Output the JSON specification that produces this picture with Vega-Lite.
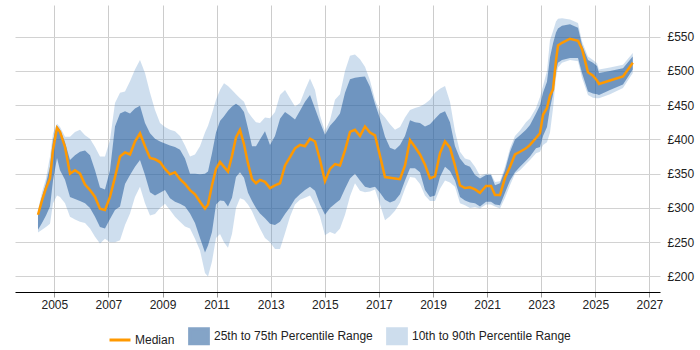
{
  "$schema": "https://vega.github.io/schema/vega-lite/v6.json",
  "width": 645,
  "height": 287,
  "autosize": "none",
  "padding": {"left": 15, "top": 5, "right": 40, "bottom": 58},
  "config": {
    "view": {"stroke": null},
    "font": "Liberation Sans",
    "axisY": {
      "title": null,
      "orient": "right",
      "values": [180, 190, 200, 210, 220, 230, 240, 250, 260, 270, 280, 290, 300, 310, 320, 330, 340, 350, 360, 370, 380, 390, 400, 410, 420, 430, 440, 450, 460, 470, 480, 490, 500, 510, 520, 530, 540, 550, 560, 570, 580, 590],
      "labelExpr": "datum.value % 50 === 0 ? '£' + datum.value : ''",
      "labelOverlap": false,
      "grid": true,
      "gridColor": {"condition": {"test": "datum.value % 50 === 0", "value": "#d2d2d2"}, "value": "#ebebeb"},
      "domain": false,
      "ticks": false,
      "labelPadding": 7,
      "labelFontSize": 12,
      "labelFont": "Liberation Sans",
      "labelColor": "#222222"
    },
    "legend": {
      "title": null,
      "orient": "none",
      "legendX": 96,
      "legendY": 322,
      "direction": "horizontal",
      "labelFontSize": 12,
      "labelFont": "Liberation Sans",
      "labelColor": "#222222",
      "labelOffset": 6,
      "columnPadding": 8,
      "symbolSize": 225,
      "symbolStrokeWidth": 3
    }
  },
  "data": {
    "values": [
      {"year": 2004.397, "p10": 264, "p25": 268, "median": 290, "p75": 293, "p90": 297},
      {"year": 2004.545, "p10": 268, "p25": 278, "median": 311, "p75": 316, "p90": 323},
      {"year": 2004.693, "p10": 272, "p25": 289, "median": 329, "p75": 336, "p90": 343},
      {"year": 2004.841, "p10": 277, "p25": 302, "median": 343, "p75": 360, "p90": 375},
      {"year": 2004.952, "p10": 307, "p25": 340, "median": 385, "p75": 399, "p90": 409},
      {"year": 2005.100, "p10": 318, "p25": 373, "median": 417, "p75": 420, "p90": 423},
      {"year": 2005.211, "p10": 316, "p25": 355, "median": 411, "p75": 414, "p90": 418},
      {"year": 2005.396, "p10": 307, "p25": 341, "median": 389, "p75": 396, "p90": 404},
      {"year": 2005.580, "p10": 287, "p25": 316, "median": 350, "p75": 370, "p90": 404},
      {"year": 2005.765, "p10": 283, "p25": 313, "median": 355, "p75": 377, "p90": 411},
      {"year": 2005.950, "p10": 280, "p25": 310, "median": 350, "p75": 382, "p90": 414},
      {"year": 2006.135, "p10": 278, "p25": 307, "median": 334, "p75": 384, "p90": 406},
      {"year": 2006.320, "p10": 270, "p25": 300, "median": 326, "p75": 377, "p90": 401},
      {"year": 2006.505, "p10": 258, "p25": 287, "median": 316, "p75": 355, "p90": 389},
      {"year": 2006.689, "p10": 248, "p25": 272, "median": 299, "p75": 330, "p90": 375},
      {"year": 2006.874, "p10": 255, "p25": 270, "median": 297, "p75": 327, "p90": 375},
      {"year": 2007.059, "p10": 250, "p25": 284, "median": 316, "p75": 355, "p90": 399},
      {"year": 2007.244, "p10": 250, "p25": 297, "median": 345, "p75": 419, "p90": 453},
      {"year": 2007.429, "p10": 253, "p25": 302, "median": 375, "p75": 438, "p90": 468},
      {"year": 2007.614, "p10": 275, "p25": 335, "median": 381, "p75": 441, "p90": 470},
      {"year": 2007.799, "p10": 292, "p25": 348, "median": 378, "p75": 438, "p90": 485},
      {"year": 2007.983, "p10": 316, "p25": 360, "median": 397, "p75": 445, "p90": 502},
      {"year": 2008.168, "p10": 331, "p25": 370, "median": 409, "p75": 449, "p90": 516},
      {"year": 2008.353, "p10": 307, "p25": 348, "median": 390, "p75": 424, "p90": 497},
      {"year": 2008.538, "p10": 289, "p25": 323, "median": 373, "p75": 409, "p90": 468},
      {"year": 2008.723, "p10": 291, "p25": 318, "median": 371, "p75": 401, "p90": 443},
      {"year": 2008.908, "p10": 300, "p25": 322, "median": 367, "p75": 397, "p90": 424},
      {"year": 2009.092, "p10": 306, "p25": 326, "median": 357, "p75": 394, "p90": 418},
      {"year": 2009.277, "p10": 297, "p25": 314, "median": 349, "p75": 391, "p90": 414},
      {"year": 2009.462, "p10": 287, "p25": 309, "median": 352, "p75": 389, "p90": 412},
      {"year": 2009.647, "p10": 280, "p25": 306, "median": 342, "p75": 385, "p90": 405},
      {"year": 2009.832, "p10": 273, "p25": 302, "median": 335, "p75": 372, "p90": 391},
      {"year": 2010.017, "p10": 270, "p25": 292, "median": 326, "p75": 350, "p90": 375},
      {"year": 2010.201, "p10": 255, "p25": 278, "median": 320, "p75": 350, "p90": 378},
      {"year": 2010.386, "p10": 238, "p25": 256, "median": 309, "p75": 349, "p90": 390},
      {"year": 2010.571, "p10": 205, "p25": 235, "median": 299, "p75": 350, "p90": 410},
      {"year": 2010.682, "p10": 200, "p25": 245, "median": 305, "p75": 353, "p90": 420},
      {"year": 2010.830, "p10": 222, "p25": 265, "median": 333, "p75": 380, "p90": 438},
      {"year": 2010.978, "p10": 256, "p25": 305, "median": 357, "p75": 410, "p90": 458},
      {"year": 2011.126, "p10": 262, "p25": 311, "median": 367, "p75": 427, "p90": 472},
      {"year": 2011.274, "p10": 250, "p25": 310, "median": 360, "p75": 434, "p90": 482},
      {"year": 2011.421, "p10": 242, "p25": 302, "median": 353, "p75": 442, "p90": 478},
      {"year": 2011.569, "p10": 262, "p25": 315, "median": 376, "p75": 448, "p90": 472},
      {"year": 2011.717, "p10": 300, "p25": 345, "median": 403, "p75": 452, "p90": 466},
      {"year": 2011.865, "p10": 314, "p25": 352, "median": 414, "p75": 448, "p90": 460},
      {"year": 2012.013, "p10": 312, "p25": 344, "median": 393, "p75": 440, "p90": 455},
      {"year": 2012.161, "p10": 305, "p25": 322, "median": 365, "p75": 416, "p90": 440},
      {"year": 2012.309, "p10": 295, "p25": 310, "median": 342, "p75": 390, "p90": 432},
      {"year": 2012.457, "p10": 282, "p25": 300, "median": 336, "p75": 390, "p90": 425},
      {"year": 2012.604, "p10": 270, "p25": 292, "median": 341, "p75": 400, "p90": 424},
      {"year": 2012.789, "p10": 256, "p25": 285, "median": 338, "p75": 412, "p90": 432},
      {"year": 2012.974, "p10": 250, "p25": 277, "median": 329, "p75": 392, "p90": 431},
      {"year": 2013.159, "p10": 240, "p25": 275, "median": 333, "p75": 405, "p90": 440},
      {"year": 2013.344, "p10": 240, "p25": 280, "median": 336, "p75": 430, "p90": 465},
      {"year": 2013.529, "p10": 263, "p25": 291, "median": 362, "p75": 440, "p90": 472},
      {"year": 2013.713, "p10": 287, "p25": 301, "median": 374, "p75": 435, "p90": 460},
      {"year": 2013.898, "p10": 305, "p25": 313, "median": 387, "p75": 429, "p90": 448},
      {"year": 2014.083, "p10": 312, "p25": 320, "median": 392, "p75": 442, "p90": 453},
      {"year": 2014.268, "p10": 315, "p25": 326, "median": 390, "p75": 455, "p90": 472},
      {"year": 2014.453, "p10": 318, "p25": 331, "median": 401, "p75": 465, "p90": 489},
      {"year": 2014.638, "p10": 305, "p25": 325, "median": 397, "p75": 445, "p90": 472},
      {"year": 2014.823, "p10": 287, "p25": 305, "median": 370, "p75": 425, "p90": 435},
      {"year": 2015.007, "p10": 260, "p25": 290, "median": 339, "p75": 407, "p90": 412},
      {"year": 2015.192, "p10": 265, "p25": 300, "median": 357, "p75": 420, "p90": 428},
      {"year": 2015.377, "p10": 262, "p25": 306, "median": 364, "p75": 428, "p90": 458},
      {"year": 2015.562, "p10": 270, "p25": 312, "median": 362, "p75": 438, "p90": 466},
      {"year": 2015.747, "p10": 290, "p25": 328, "median": 384, "p75": 468, "p90": 500},
      {"year": 2015.932, "p10": 317, "p25": 343, "median": 411, "p75": 488, "p90": 522},
      {"year": 2016.116, "p10": 336, "p25": 350, "median": 414, "p75": 490, "p90": 524},
      {"year": 2016.301, "p10": 325, "p25": 340, "median": 405, "p75": 491, "p90": 517},
      {"year": 2016.486, "p10": 323, "p25": 331, "median": 419, "p75": 492, "p90": 506},
      {"year": 2016.671, "p10": 324, "p25": 329, "median": 410, "p75": 477, "p90": 486},
      {"year": 2016.856, "p10": 327, "p25": 331, "median": 406, "p75": 452, "p90": 458},
      {"year": 2017.041, "p10": 305, "p25": 322, "median": 376, "p75": 430, "p90": 440},
      {"year": 2017.226, "p10": 282, "p25": 312, "median": 345, "p75": 404, "p90": 432},
      {"year": 2017.410, "p10": 288, "p25": 308, "median": 344, "p75": 388, "p90": 422},
      {"year": 2017.595, "p10": 296, "p25": 311, "median": 343, "p75": 385, "p90": 414},
      {"year": 2017.780, "p10": 308, "p25": 320, "median": 342, "p75": 392, "p90": 418},
      {"year": 2017.965, "p10": 328, "p25": 340, "median": 362, "p75": 405, "p90": 432},
      {"year": 2018.150, "p10": 345, "p25": 358, "median": 399, "p75": 428, "p90": 443},
      {"year": 2018.335, "p10": 344, "p25": 358, "median": 389, "p75": 425, "p90": 446},
      {"year": 2018.519, "p10": 335, "p25": 352, "median": 378, "p75": 424, "p90": 448},
      {"year": 2018.704, "p10": 318, "p25": 326, "median": 363, "p75": 419, "p90": 452},
      {"year": 2018.889, "p10": 310, "p25": 316, "median": 343, "p75": 422, "p90": 458},
      {"year": 2019.074, "p10": 310, "p25": 318, "median": 346, "p75": 430, "p90": 468},
      {"year": 2019.259, "p10": 328, "p25": 345, "median": 380, "p75": 438, "p90": 474},
      {"year": 2019.444, "p10": 340, "p25": 360, "median": 397, "p75": 441, "p90": 478},
      {"year": 2019.628, "p10": 337, "p25": 354, "median": 388, "p75": 425, "p90": 455},
      {"year": 2019.813, "p10": 331, "p25": 340, "median": 362, "p75": 390, "p90": 412},
      {"year": 2019.998, "p10": 307, "p25": 316, "median": 333, "p75": 372, "p90": 382},
      {"year": 2020.183, "p10": 304, "p25": 311, "median": 329, "p75": 363, "p90": 372},
      {"year": 2020.368, "p10": 300, "p25": 308, "median": 330, "p75": 360, "p90": 370},
      {"year": 2020.553, "p10": 301, "p25": 307, "median": 327, "p75": 348, "p90": 360},
      {"year": 2020.738, "p10": 299, "p25": 302, "median": 322, "p75": 343, "p90": 347},
      {"year": 2020.959, "p10": 305, "p25": 309, "median": 332, "p75": 348, "p90": 350},
      {"year": 2021.144, "p10": 305, "p25": 309, "median": 332, "p75": 348, "p90": 350},
      {"year": 2021.292, "p10": 302, "p25": 305, "median": 319, "p75": 333, "p90": 338},
      {"year": 2021.477, "p10": 299, "p25": 304, "median": 319, "p75": 336, "p90": 339},
      {"year": 2021.662, "p10": 315, "p25": 322, "median": 344, "p75": 355, "p90": 360},
      {"year": 2021.847, "p10": 333, "p25": 340, "median": 360, "p75": 382, "p90": 387},
      {"year": 2022.031, "p10": 350, "p25": 352, "median": 378, "p75": 400, "p90": 405},
      {"year": 2022.216, "p10": 355, "p25": 360, "median": 382, "p75": 406, "p90": 413},
      {"year": 2022.438, "p10": 364, "p25": 369, "median": 387, "p75": 414, "p90": 425},
      {"year": 2022.586, "p10": 370, "p25": 375, "median": 392, "p75": 421, "p90": 431},
      {"year": 2022.808, "p10": 380, "p25": 387, "median": 402, "p75": 438, "p90": 446},
      {"year": 2022.956, "p10": 382, "p25": 389, "median": 409, "p75": 450, "p90": 462},
      {"year": 2023.067, "p10": 392, "p25": 405, "median": 436, "p75": 468, "p90": 478},
      {"year": 2023.214, "p10": 396, "p25": 418, "median": 446, "p75": 484, "p90": 500},
      {"year": 2023.325, "p10": 410, "p25": 446, "median": 464, "p75": 520, "p90": 545},
      {"year": 2023.436, "p10": 445, "p25": 466, "median": 473, "p75": 540, "p90": 558},
      {"year": 2023.547, "p10": 490, "p25": 500, "median": 515, "p75": 556, "p90": 572},
      {"year": 2023.621, "p10": 505, "p25": 512, "median": 537, "p75": 562, "p90": 576},
      {"year": 2023.769, "p10": 512, "p25": 516, "median": 541, "p75": 566, "p90": 577},
      {"year": 2024.065, "p10": 516, "p25": 519, "median": 547, "p75": 568, "p90": 575},
      {"year": 2024.360, "p10": 514, "p25": 519, "median": 544, "p75": 563, "p90": 570},
      {"year": 2024.508, "p10": 490, "p25": 497, "median": 532, "p75": 538, "p90": 543},
      {"year": 2024.730, "p10": 465, "p25": 470, "median": 498, "p75": 516, "p90": 521},
      {"year": 2024.915, "p10": 461, "p25": 467, "median": 493, "p75": 512, "p90": 516},
      {"year": 2025.063, "p10": 460, "p25": 466, "median": 486, "p75": 507, "p90": 511},
      {"year": 2025.137, "p10": 460, "p25": 465, "median": 481, "p75": 497, "p90": 502},
      {"year": 2025.543, "p10": 466, "p25": 472, "median": 486, "p75": 500, "p90": 505},
      {"year": 2026.024, "p10": 475, "p25": 480, "median": 492, "p75": 504, "p90": 509},
      {"year": 2026.386, "p10": 497, "p25": 502, "median": 512, "p75": 521, "p90": 526}
    ]
  },
  "encoding": {
    "x": {
      "field": "year",
      "type": "quantitative",
      "scale": {"domain": [2003.547, 2027.392], "nice": false, "zero": false},
      "axis": {
        "title": null,
        "values": [2005, 2007, 2009, 2011, 2013, 2015, 2017, 2019, 2021, 2023, 2025, 2027],
        "format": "d",
        "grid": true,
        "gridColor": "#cccccc",
        "domainColor": "#000000",
        "tickColor": "#999999",
        "tickSize": 5,
        "labelFontSize": 12,
        "labelFont": "Liberation Sans",
        "labelColor": "#222222",
        "labelPadding": 2
      }
    },
    "color": {
      "datum": "10th to 90th Percentile Range",
      "scale": {
        "domain": ["Median", "25th to 75th Percentile Range", "10th to 90th Percentile Range"],
        "range": ["#ff9900", "#205a9b", "#5c91c6"]
      },
      "legend": {
        "symbolType": "square",
        "encode": {
          "symbols": {
            "update": {
              "shape": {"signal": "datum.value === 'Median' ? 'M-1.4,0H1.4' : 'M-1.25,-1H1.25V1H-1.25Z'"},
              "size": {"value": 225},
              "strokeWidth": {"value": 3},
              "opacity": {"signal": "datum.value === 'Median' ? 1 : (datum.value === '10th to 90th Percentile Range' ? 0.3 : 0.55)"}
            }
          }
        }
      }
    }
  },
  "layer": [
    {
      "mark": {"type": "area", "opacity": 0.3},
      "encoding": {
        "y": {
          "field": "p90",
          "type": "quantitative",
          "scale": {"domain": [177.3, 596.2], "nice": false, "zero": false}
        },
        "y2": {"field": "p10"}
      }
    },
    {
      "mark": {"type": "area", "opacity": 0.55},
      "encoding": {
        "y": {"field": "p75", "type": "quantitative"},
        "y2": {"field": "p25"},
        "color": {"datum": "25th to 75th Percentile Range"}
      }
    },
    {
      "mark": {"type": "line", "strokeWidth": 2.5},
      "encoding": {
        "y": {"field": "median", "type": "quantitative"},
        "color": {"datum": "Median"}
      }
    }
  ]
}
